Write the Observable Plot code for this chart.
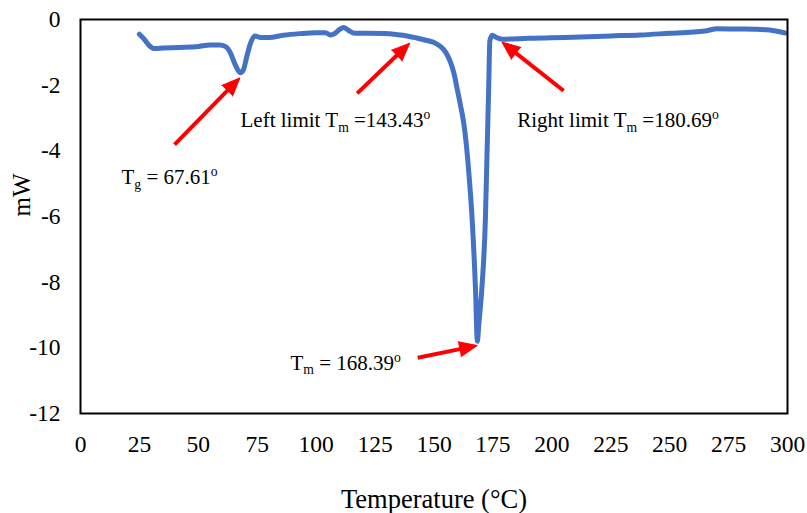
<!DOCTYPE html>
<html>
<head>
<meta charset="utf-8">
<script src="https://cdn.jsdelivr.net/npm/d3@7"></script>
<script src="https://cdn.jsdelivr.net/npm/@observablehq/plot@0.6"></script>
<style>
  html, body { margin: 0; padding: 0; background: #fff; }
  #chart svg { display: block; }
</style>
</head>
<body>
<div id="chart"></div>
<script>
// ---- data ----
const temperature = [25, 27, 29, 31, 35, 42, 50, 55, 59, 61.5, 63.5, 65.5, 67.8, 69, 70.5, 72, 74, 76.5, 80, 86, 93, 100, 104, 106, 108, 110, 111.7, 113.5, 116.5, 122, 128.7, 134, 138.6, 143, 147, 150, 152.7, 155, 157, 158.5, 159.8, 161.2, 162.6, 163.7, 164.7, 166.2, 167.6, 168.4, 169, 170.4, 171.8, 172.5, 173.2, 173.7, 174.7, 176.5, 178.9, 190, 209, 225, 237.6, 250, 260, 265.9, 270, 280, 287, 295, 299];
const heatFlow = [-0.45, -0.6, -0.78, -0.88, -0.87, -0.85, -0.82, -0.78, -0.78, -0.82, -1.0, -1.35, -1.62, -1.55, -1.15, -0.75, -0.5, -0.55, -0.55, -0.48, -0.43, -0.4, -0.4, -0.47, -0.42, -0.3, -0.24, -0.32, -0.42, -0.42, -0.43, -0.46, -0.5, -0.57, -0.64, -0.7, -0.82, -1.0, -1.3, -1.65, -2.1, -2.6, -3.15, -3.8, -4.6, -6.1, -8.2, -9.8, -9.3, -8.1, -6.1, -4.1, -2.1, -0.65, -0.48, -0.55, -0.6, -0.57, -0.54, -0.5, -0.47, -0.42, -0.38, -0.34, -0.28, -0.29, -0.3, -0.35, -0.41];

const xTicks = [0, 25, 50, 75, 100, 125, 150, 175, 200, 225, 250, 275, 300];
const yTicks = [0, -2, -4, -6, -8, -10, -12];

const labelTexts = ["T_{g} = 67.61^{o}", "Left limit T_{m} =143.43^{o}", "Right limit T_{m} =180.69^{o}", "T_{m} = 168.39^{o}"];
const labelX = [17.4, 67.9, 185.3, 89.1];
const labelY = [-4.82, -3.08, -3.08, -10.46];

const arrowX1 = [39.9, 117.4, 205.0, 143.1];
const arrowY1 = [-3.81, -2.25, -2.17, -10.30];
const arrowX2 = [67.6, 139.7, 178.9, 168.3];
const arrowY2 = [-1.78, -0.72, -0.69, -9.93];

const xLabel = "Temperature (°C)";
const yLabel = "mW";

// ---- layout ----
const W = 807, H = 513, mt = 19, mb = 100, ml = 80, mr = 20;
const kx = (W - ml - mr) / 300;
const ky = (H - mt - mb) / 12;
const headLen = 18, headR = 7.5;

const curve = temperature.map((t, i) => ({t, v: heatFlow[i]}));
const labels = labelTexts.map((s, i) => ({s, x: labelX[i], y: labelY[i]}));
const arrows = arrowX1.map((x1, i) => {
  const x2 = arrowX2[i], y1 = arrowY1[i], y2 = arrowY2[i];
  const dx = (x2 - x1) * kx, dy = -(y2 - y1) * ky;
  const L = Math.hypot(dx, dy), ux = dx / L, uy = dy / L;
  const ang = Math.atan2(uy, ux) * 180 / Math.PI;
  return {
    x1, y1, x2, y2,
    xe: x2 - (headLen - 4) * ux / kx,
    ye: y2 + (headLen - 4) * uy / ky,
    rot: ang + 90
  };
});

const chart = Plot.plot({
  width: W, height: H,
  marginTop: mt, marginBottom: mb, marginLeft: ml, marginRight: mr,
  style: {fontFamily: "'Liberation Serif', 'Times New Roman', serif", fontSize: "23.5px", color: "#000", background: "#fff"},
  x: {domain: [0, 300]},
  y: {domain: [-12, 0]},
  marks: [
    Plot.axisX({ticks: xTicks, tickSize: 0, tickPadding: 22, label: null, tickFormat: d => String(d)}),
    Plot.axisY({ticks: yTicks, tickSize: 0, tickPadding: 20, label: null, tickFormat: d => String(d)}),
    Plot.line(curve, {x: "t", y: "v", stroke: "#4472C4", strokeWidth: 5, curve: "monotone-x", strokeLinejoin: "round", strokeLinecap: "round"}),
    Plot.link(arrows, {x1: "x1", y1: "y1", x2: "xe", y2: "ye", stroke: "#FF0000", strokeWidth: 4}),
    Plot.vector(arrows, {x: "x2", y: "y2", rotate: "rot", length: headLen, r: headR, shape: "spike", anchor: "end", fill: "#FF0000", stroke: "#FF0000", strokeWidth: 1}),
    Plot.text(labels, {x: "x", y: "y", text: "s", textAnchor: "start", lineAnchor: "middle", fontSize: 21, fill: "#000"}),
    Plot.text([xLabel], {frameAnchor: "bottom", dy: 86.5, lineAnchor: "middle", fontSize: 26.5, fill: "#000"}),
    Plot.text([yLabel], {frameAnchor: "left", dx: -59, rotate: -90, lineAnchor: "middle", fontSize: 25, fill: "#000"}),
    Plot.frame({stroke: "#000", strokeWidth: 2})
  ]
});

// render subscripts / superscripts as tspans
const NS = "http://www.w3.org/2000/svg";
chart.querySelectorAll("text").forEach(el => {
  const s = el.textContent;
  if (!/[_^]\{/.test(s)) return;
  const fs = 21;
  const parts = s.split(/([_^]\{[^}]*\})/).filter(p => p.length);
  el.textContent = "";
  let shift = 0;
  for (const p of parts) {
    const ts = document.createElementNS(NS, "tspan");
    let target = 0, txt = p;
    if (p.startsWith("_{")) { target = 4.5; txt = p.slice(2, -1); ts.setAttribute("font-size", fs * 0.65); }
    else if (p.startsWith("^{")) { target = -8; txt = p.slice(2, -1); ts.setAttribute("font-size", fs * 0.65); }
    if (target !== shift) ts.setAttribute("dy", (target - shift) + "px");
    shift = target;
    ts.textContent = txt;
    el.appendChild(ts);
  }
});

document.getElementById("chart").appendChild(chart);
</script>
</body>
</html>
